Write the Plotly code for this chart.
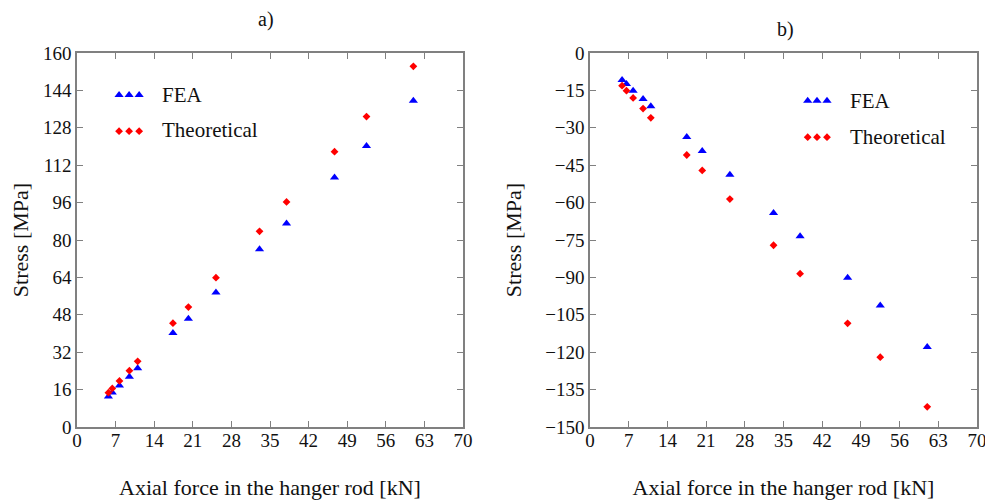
import plotly.graph_objects as go

# ---------------- data ----------------
force_a = [5.7, 6.4, 7.7, 9.5, 11.0, 17.4, 20.2, 25.2, 33.1, 38.0, 46.7, 52.5, 61.0]
fea_a = [13.0, 14.8, 17.8, 21.5, 25.1, 40.2, 46.3, 57.5, 76.0, 87.1, 106.7, 120.2, 139.6]
theo_a = [14.7, 16.5, 19.7, 24.1, 28.1, 44.4, 51.3, 63.9, 83.7, 96.3, 117.8, 132.8, 154.3]

force_b = [5.8, 6.6, 7.8, 9.6, 11.0, 17.5, 20.3, 25.3, 33.2, 38.0, 46.6, 52.5, 61.0]
fea_b = [-10.8, -12.4, -15.1, -18.4, -21.4, -33.7, -39.3, -48.8, -64.2, -73.5, -90.1, -101.3, -117.9]
theo_b = [-13.1, -15.1, -18.0, -22.3, -26.0, -40.9, -47.1, -58.6, -77.1, -88.5, -108.4, -122.0, -141.9]

x_ticks = [0, 7, 14, 21, 28, 35, 42, 49, 56, 63, 70]
y_ticks_a = list(range(0, 161, 16))
y_ticks_b = list(range(-150, 1, 15))

panel_titles = ["a)", "b)"]
x_title = "Axial force in the hanger rod [kN]"
y_title = "Stress [MPa]"
series_names = ["FEA", "Theoretical"]

# ---------------- style ----------------
FONT = "Liberation Serif"
AX = "#808080"
BLUE = "#0000ff"
RED = "#ff0000"
PAGE_MARGIN = 8            # default body margin of the html page
W, H = 993 - PAGE_MARGIN, 504 - PAGE_MARGIN


def fx(px):  # page pixel x -> paper fraction
    return (px - PAGE_MARGIN) / W


def fy(py):  # page pixel y -> paper fraction
    return (H - (py - PAGE_MARGIN)) / H


dom_a = [fx(77), fx(463)]
dom_b = [fx(590), fx(977)]
dom_y = [fy(427), fy(53)]

fig = go.Figure()

tri = dict(symbol="triangle-up", size=8, color=BLUE)
dia = dict(symbol="diamond", size=6, color=RED)

fig.add_trace(go.Scatter(x=force_a, y=fea_a, mode="markers", marker=tri, xaxis="x", yaxis="y", name=series_names[0]))
fig.add_trace(go.Scatter(x=force_a, y=theo_a, mode="markers", marker=dia, xaxis="x", yaxis="y", name=series_names[1]))
fig.add_trace(go.Scatter(x=force_b, y=fea_b, mode="markers", marker=tri, xaxis="x2", yaxis="y2", name=series_names[0]))
fig.add_trace(go.Scatter(x=force_b, y=theo_b, mode="markers", marker=dia, xaxis="x2", yaxis="y2", name=series_names[1]))

# legend glyphs (three markers each) on hidden unit axes overlaying each panel
legend_a = dict(xs=[0.109, 0.135, 0.161], y_fea=0.888, y_theo=0.791)
legend_b = dict(xs=[0.5625, 0.5866, 0.6124], y_fea=0.872, y_theo=0.775)
for lg, xa, ya in [(legend_a, "x3", "y3"), (legend_b, "x4", "y4")]:
    fig.add_trace(go.Scatter(x=lg["xs"], y=[lg["y_fea"]] * 3, mode="markers", marker=tri,
                             xaxis=xa, yaxis=ya, hoverinfo="skip"))
    fig.add_trace(go.Scatter(x=lg["xs"], y=[lg["y_theo"]] * 3, mode="markers", marker=dia,
                             xaxis=xa, yaxis=ya, hoverinfo="skip"))

tickfont = dict(family=FONT, size=19, color="#111")
titlefont = dict(family=FONT, size=22, color="#111")


def xax(domain, anchor):
    return dict(domain=domain, anchor=anchor, range=[0, 70], tickvals=x_ticks, ticks="inside",
                ticklen=6, tickcolor=AX, tickwidth=1.2, showline=True, linecolor=AX, linewidth=1.5,
                mirror="ticks", showgrid=False, zeroline=False, tickfont=tickfont, automargin=False,
                ticklabeloverflow="allow", ticklabelstandoff=-5,
                title=dict(text=x_title, font=titlefont, standoff=30))


def yax(domain, anchor, rng, vals):
    return dict(domain=domain, anchor=anchor, range=rng, tickvals=vals, ticks="inside",
                ticklen=6, tickcolor=AX, tickwidth=1.2, showline=True, linecolor=AX, linewidth=1.5,
                mirror="ticks", showgrid=False, zeroline=False, tickfont=tickfont, automargin=False,
                ticklabeloverflow="allow",
                title=dict(text=y_title, font=titlefont, standoff=18))


hidden = dict(range=[0, 1], visible=False, showgrid=False, zeroline=False, fixedrange=True)

fig.update_layout(
    width=W, height=H,
    margin=dict(l=0, r=0, t=0, b=0, autoexpand=False),
    paper_bgcolor="white", plot_bgcolor="rgba(0,0,0,0)",
    showlegend=False,
    font=dict(family=FONT, color="#111"),
    xaxis=xax(dom_a, "y"),
    yaxis=yax(dom_y, "x", [0, 160], y_ticks_a),
    xaxis2=xax(dom_b, "y2"),
    yaxis2=yax(dom_y, "x2", [-150, 0], y_ticks_b),
    xaxis3=dict(overlaying="x", anchor="y3", **hidden),
    yaxis3=dict(overlaying="y", anchor="x3", **hidden),
    xaxis4=dict(overlaying="x2", anchor="y4", **hidden),
    yaxis4=dict(overlaying="y2", anchor="x4", **hidden),
)

ann = []
ann.append(dict(text=panel_titles[0], x=fx(266), y=fy(20), xref="paper", yref="paper",
                showarrow=False, font=dict(family=FONT, size=20, color="#111"), xanchor="center", yanchor="middle"))
ann.append(dict(text=panel_titles[1], x=fx(785), y=fy(29), xref="paper", yref="paper",
                showarrow=False, font=dict(family=FONT, size=20, color="#111"), xanchor="center", yanchor="middle"))
for (tx, yf, yt) in [(fx(160), fy(95), fy(130)), (fx(848), fy(101), fy(137))]:
    ann.append(dict(text=series_names[0], x=tx, y=yf, xref="paper", yref="paper", showarrow=False,
                    font=dict(family=FONT, size=21, color="#111"), xanchor="left", yanchor="middle"))
    ann.append(dict(text=series_names[1], x=tx, y=yt, xref="paper", yref="paper", showarrow=False,
                    font=dict(family=FONT, size=21, color="#111"), xanchor="left", yanchor="middle"))
fig.update_layout(annotations=ann)

fig.write_html("out.html")
